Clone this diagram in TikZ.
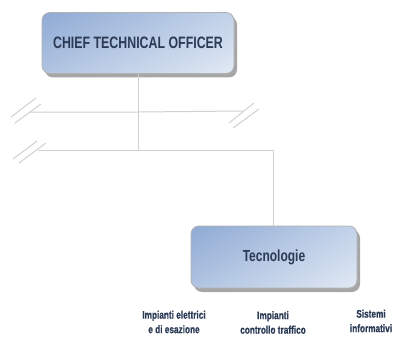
\documentclass[tikz,border=0pt]{standalone}
\usepackage{fontspec}
\setmainfont{Liberation Sans}
\newfontfamily\heavyfont{Liberation Sans Bold}[FakeBold=0.8]
\usetikzlibrary{shadows,shadings}
\definecolor{boxul}{HTML}{8FAAD4}
\definecolor{boxur}{HTML}{C2D2E9}
\definecolor{boxll}{HTML}{B0C4E1}
\definecolor{boxlr}{HTML}{E1E9F4}
\definecolor{textnavy}{HTML}{2B3A55}
\definecolor{wire}{HTML}{D0D0D0}
\def\narrow#1{\scalebox{0.75}[1]{#1}}
\tikzset{
	unitbox/.style={draw=black!30, line width=0.8pt, rounded corners=8pt,
		shading=bilinear interpolation,
		upper left=boxul, upper right=boxur, lower left=boxll, lower right=boxlr,
		drop shadow={shadow xshift=3pt, shadow yshift=-4pt, fill=black!35, opacity=1},
		text=textnavy, inner sep=0pt},
	wireline/.style={draw=wire, line width=1pt},
	sublabel/.style={text=textnavy, inner sep=0pt,
		font=\heavyfont\fontsize{11}{14.5}\selectfont}
}
\begin{document}
\begin{tikzpicture}[x=1pt, y=-1pt]
			%%%%% START %%%%%
			\useasboundingbox (0, 0) rectangle (399, 337);
			
			\node[unitbox, minimum width=192pt, minimum height=61pt, font=\bfseries\fontsize{16.5}{18}\selectfont] (cto) at (138, 43) {\narrow{CHIEF TECHNICAL OFFICER}};
			\node[unitbox, minimum width=166pt, minimum height=62pt, font=\bfseries\fontsize{16}{18}\selectfont] (tecno) at (274, 257) {\narrow{Tecnologie}};
			
			\coordinate (hubA) at (138.3, 112);
			\coordinate (hubB) at (138.3, 150.7);
			\coordinate (leftA) at (30, 112);
			\coordinate (rightA) at (243, 111);
			\coordinate (leftB) at (38, 150.7);
			\coordinate (turnB) at (273.3, 150.7);
			
			\draw[wireline] (cto.south -| hubA) -- (hubB);
			\draw[wireline] (leftA) -- (hubA) -- (rightA);
			\draw[wireline] (leftB) -- (hubB) -- (turnB) -- (turnB |- tecno.north);
			
			% break marks
			\draw[wireline] (11, 117) -- (36, 98);
			\draw[wireline] (15, 123) -- (41, 104);
			\draw[wireline] (229, 123) -- (254, 103);
			\draw[wireline] (233, 128) -- (259, 109);
			\draw[wireline] (13, 159) -- (37, 141);
			\draw[wireline] (19, 163) -- (46, 143);
			
			\node[sublabel] (elettrici) at (174, 323) {\narrow{\begin{tabular}{@{}c@{}}Impianti elettrici\\e di esazione\end{tabular}}};
			\node[sublabel] (traffico) at (273, 323.5) {\narrow{\begin{tabular}{@{}c@{}}Impianti\\controllo traffico\end{tabular}}};
			\node[sublabel] (sistemi) at (371, 322) {\narrow{\begin{tabular}{@{}c@{}}Sistemi\\informativi\end{tabular}}};
			%%%%% END %%%%%
\end{tikzpicture}
\end{document}
